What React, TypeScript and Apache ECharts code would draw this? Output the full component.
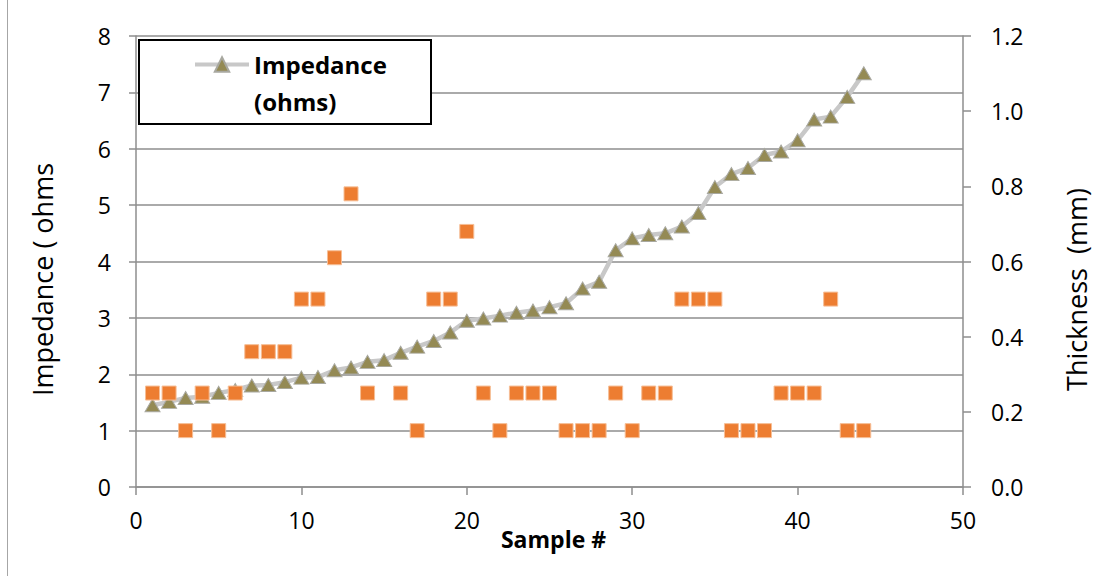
import React, { useEffect, useRef } from "react";
import * as echarts from "echarts";

const sampleNumbers = [
  1, 2, 3, 4, 5, 6, 7, 8, 9, 10, 11, 12, 13, 14, 15, 16, 17, 18, 19, 20, 21, 22,
  23, 24, 25, 26, 27, 28, 29, 30, 31, 32, 33, 34, 35, 36, 37, 38, 39, 40, 41, 42, 43, 44,
];

const impedanceOhms = [
  1.45, 1.51, 1.58, 1.6, 1.67, 1.72, 1.8, 1.81, 1.86, 1.94, 1.95, 2.07, 2.12, 2.22,
  2.25, 2.38, 2.49, 2.59, 2.74, 2.95, 2.99, 3.04, 3.09, 3.13, 3.19, 3.26, 3.52, 3.64,
  4.2, 4.41, 4.47, 4.5, 4.62, 4.86, 5.32, 5.55, 5.66, 5.89, 5.95, 6.15, 6.52, 6.57,
  6.92, 7.34,
];

const thicknessMm: (number | null)[] = [
  0.25, 0.25, 0.15, 0.25, 0.15, 0.25, 0.36, 0.36, 0.36, 0.5, 0.5, 0.61, 0.78, 0.25,
  null, 0.25, 0.15, 0.5, 0.5, 0.68, 0.25, 0.15, 0.25, 0.25, 0.25, 0.15, 0.15, 0.15,
  0.25, 0.15, 0.25, 0.25, 0.5, 0.5, 0.5, 0.15, 0.15, 0.15, 0.25, 0.25, 0.25, 0.5,
  0.15, 0.15,
];

const FONT = "'Open Sans', 'Noto Sans', sans-serif";
const GRID_GRAY = "#8E8E8E";

export default function App() {
  const ref = useRef<HTMLDivElement>(null);

  useEffect(() => {
    if (!ref.current) return;
    const chart = echarts.init(ref.current, undefined, { renderer: "svg" });

    const impData = sampleNumbers.map((x, i) => [x, impedanceOhms[i]]);
    const thkData = sampleNumbers
      .map((x, i) => [x, thicknessMm[i]])
      .filter((d) => d[1] !== null);

    const axisLabel = { color: "#000", fontFamily: FONT, fontSize: 23 };

    chart.setOption({
      animation: false,
      backgroundColor: "#fff",
      grid: { left: 136, right: 145, top: 36, bottom: 89 },
      legend: {
        show: true,
        left: 188,
        top: 4,
        itemWidth: 54,
        itemHeight: 18,
        itemGap: 5,
        z: 20,
        data: ["Impedance (ohms)"],
        formatter: () => " \nImpedance\n(ohms)",
        lineStyle: { width: 4, color: "#C8C8C8" },
        textStyle: {
          fontFamily: FONT,
          fontSize: 24,
          fontWeight: "bold",
          color: "#000",
          lineHeight: 37,
        },
      },
      graphic: [
        {
          type: "rect",
          shape: { x: 139, y: 40, width: 292, height: 84 },
          style: { fill: "#fff", stroke: "#000", lineWidth: 2 },
          z: 1,
        },
        {
          type: "line",
          shape: { x1: 7.5, y1: 0, x2: 7.5, y2: 576 },
          style: { stroke: "#A6A6A6", lineWidth: 1 },
        },
      ],
      xAxis: {
        type: "value",
        min: 0,
        max: 50,
        interval: 10,
        name: "Sample #",
        nameLocation: "middle",
        nameGap: 40,
        nameMoveOverlap: false,
        nameTextStyle: {
          fontFamily: FONT,
          fontSize: 23,
          fontWeight: "bold",
          color: "#000",
          padding: [0, 0, 0, 8],
        },
        axisLine: { show: true, lineStyle: { color: GRID_GRAY, width: 1.5 } },
        axisTick: { show: true, length: 8, lineStyle: { color: GRID_GRAY, width: 1.5 } },
        axisLabel: { ...axisLabel, margin: 21 },
        splitLine: { show: false },
      },
      yAxis: [
        {
          type: "value",
          min: 0,
          max: 8,
          interval: 1,
          position: "left",
          name: "Impedance ( ohms",
          nameLocation: "middle",
          nameRotate: 90,
          nameGap: 80,
          nameTextStyle: {
            fontFamily: FONT,
            fontSize: 27,
            color: "#000",
            padding: [0, 36, 0, 0],
          },
          axisLine: { show: true, lineStyle: { color: GRID_GRAY, width: 1.5 } },
          axisTick: { show: true, length: 7, lineStyle: { color: GRID_GRAY, width: 1.5 } },
          axisLabel: { ...axisLabel, margin: 25 },
          splitLine: { show: true, lineStyle: { color: GRID_GRAY, width: 1.5 } },
        },
        {
          type: "value",
          min: 0,
          max: 1.2,
          interval: 0.2,
          position: "right",
          name: "Thickness  (mm)",
          nameLocation: "middle",
          nameRotate: 90,
          nameGap: 100,
          nameTextStyle: {
            fontFamily: FONT,
            fontSize: 27,
            color: "#000",
            padding: [0, 56, 0, 0],
          },
          axisLine: { show: true, lineStyle: { color: GRID_GRAY, width: 1.5 } },
          axisTick: { show: true, length: 8, lineStyle: { color: GRID_GRAY, width: 1.5 } },
          axisLabel: {
            ...axisLabel,
            margin: 28,
            formatter: (v: number) => v.toFixed(1),
          },
          splitLine: { show: false },
        },
      ],
      series: [
        {
          name: "Impedance (ohms)",
          type: "line",
          yAxisIndex: 0,
          data: impData,
          symbol: "triangle",
          symbolSize: [15, 13],
          z: 2,
          lineStyle: { color: "#C8C8C8", width: 4.5 },
          itemStyle: { color: "#948A54", borderColor: "#A8A8A0", borderWidth: 1 },
        },
        {
          name: "Thickness (mm)",
          type: "scatter",
          yAxisIndex: 1,
          data: thkData,
          symbol: "rect",
          symbolSize: 14,
          z: 3,
          itemStyle: {
            color: "#ED7D31",
            opacity: 1,
            borderColor: "#F6BE96",
            borderWidth: 1,
          },
        },
      ],
    });

    return () => chart.dispose();
  }, []);

  return (
    <div
      ref={ref}
      style={{ position: "fixed", left: 0, top: 0, width: 1108, height: 576 }}
    />
  );
}
